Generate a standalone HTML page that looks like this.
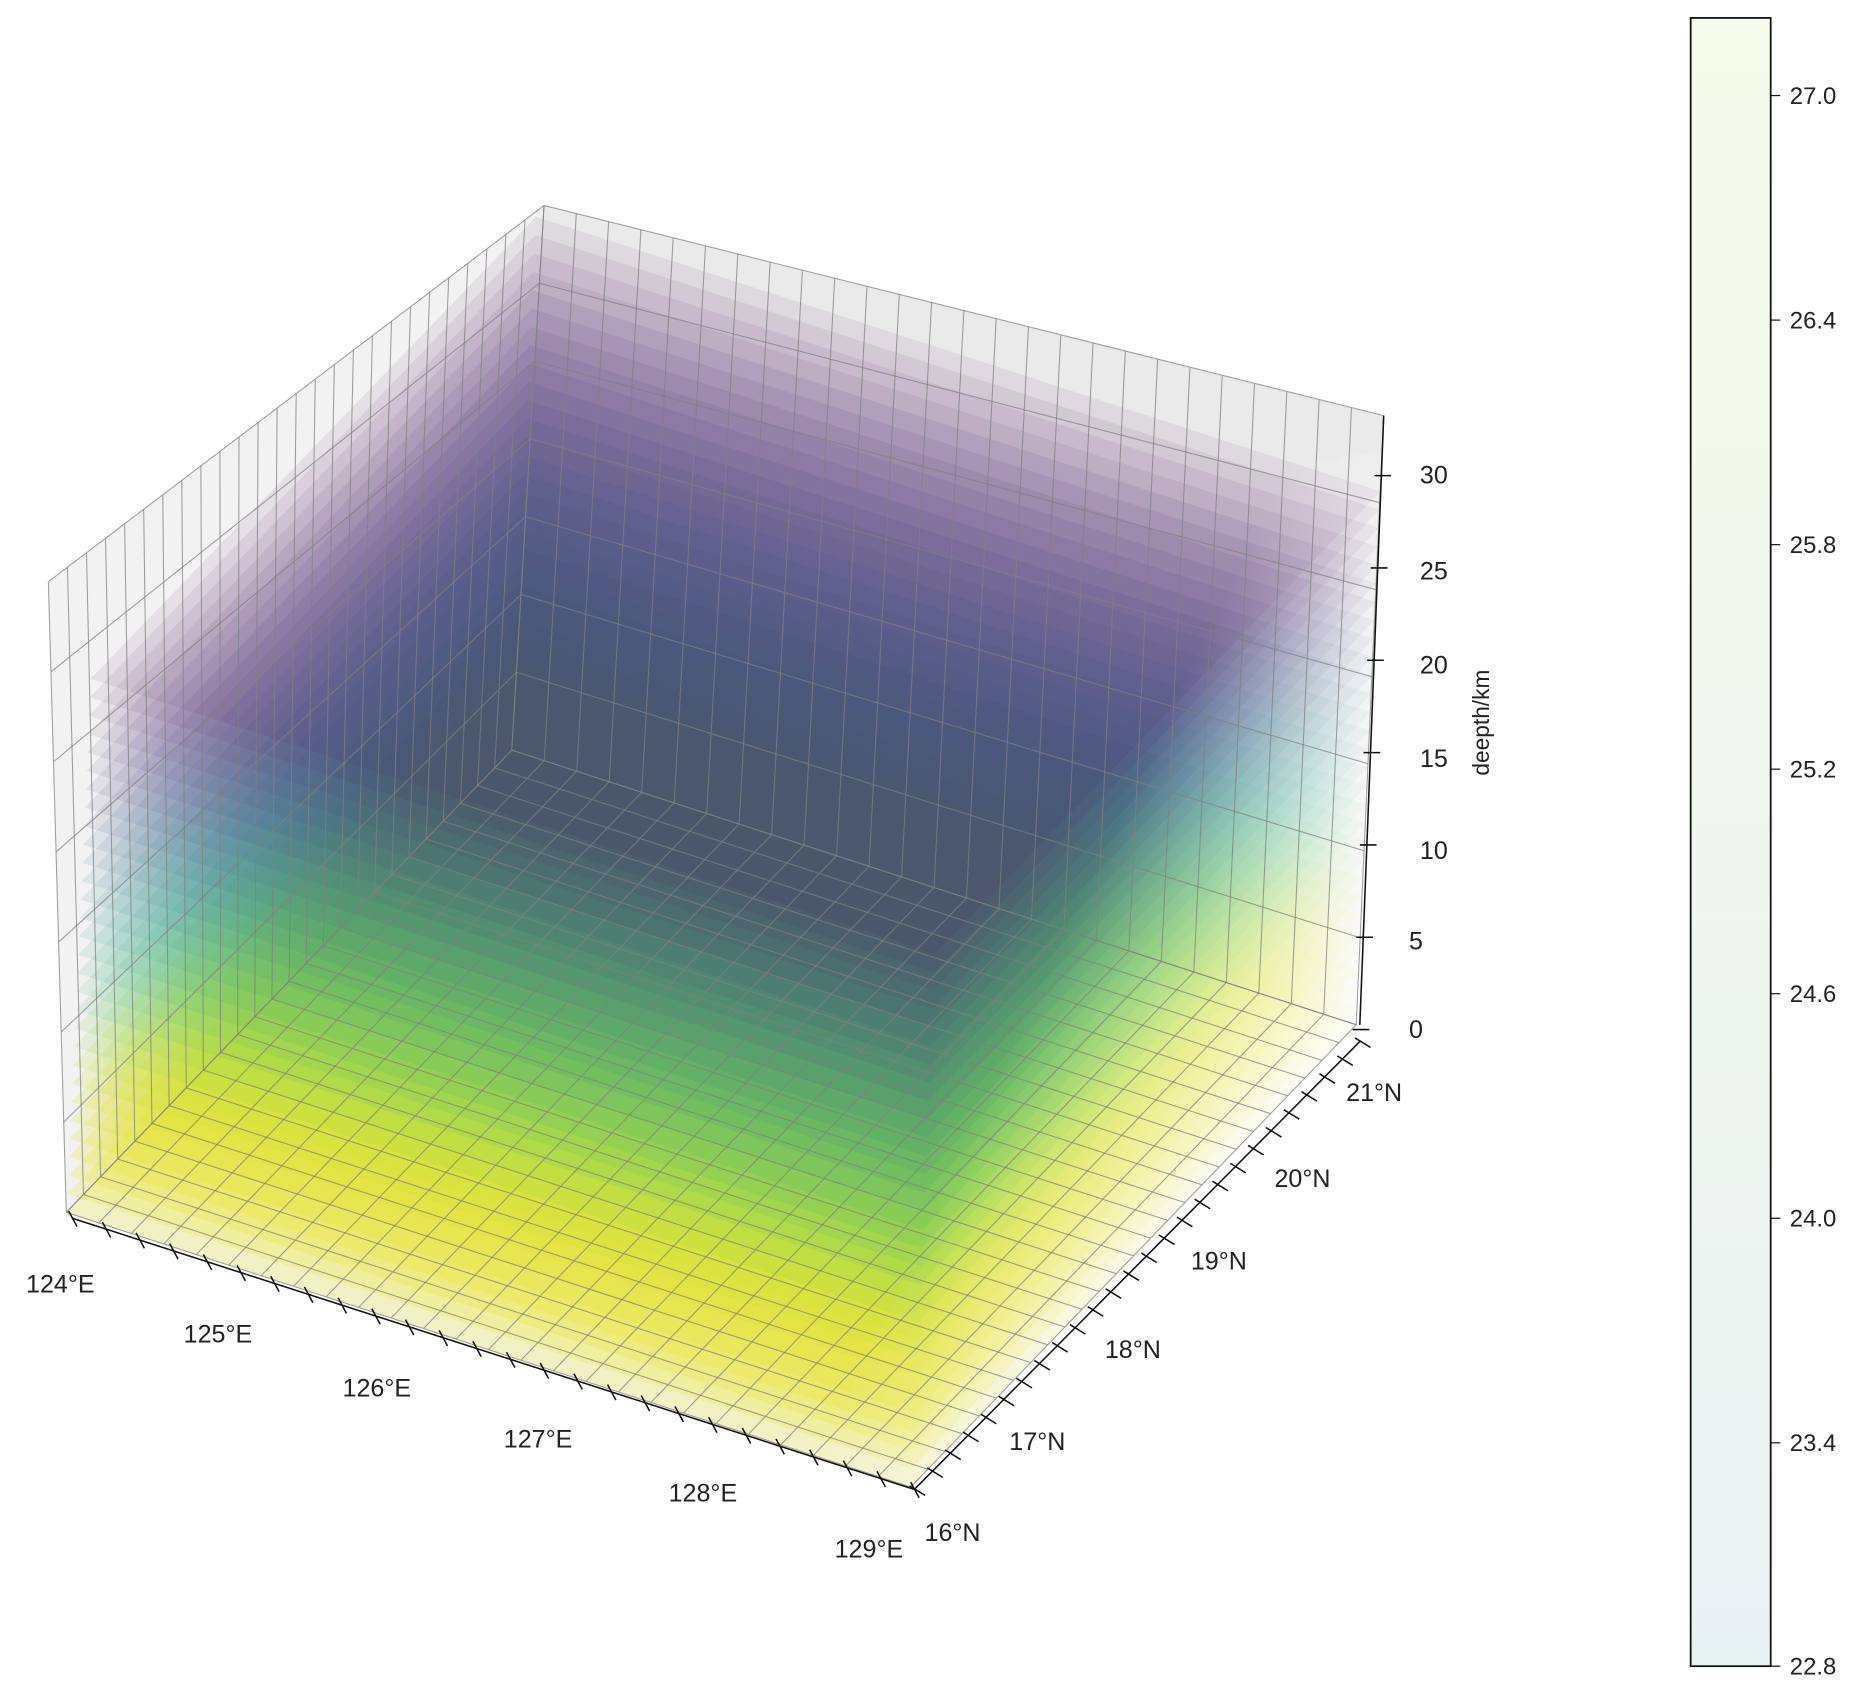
<!DOCTYPE html>
<html><head><meta charset="utf-8">
<style>html,body{margin:0;padding:0;background:#fff;}svg{display:block;}
text{font-family:"Liberation Sans",sans-serif;fill:#222;}</style></head>
<body>
<svg id="s" width="1874" height="1708" viewBox="0 0 1568 1430" xmlns="http://www.w3.org/2000/svg">
<defs>
<linearGradient id="cb" x1="0" y1="0" x2="0" y2="1"><stop offset="0" stop-color="#f7fbeb"/><stop offset="1" stop-color="#e9f2f3"/></linearGradient>
<linearGradient id="fade" gradientUnits="userSpaceOnUse" x1="480" y1="900" x2="1000" y2="1150"><stop offset="0" stop-color="#fff" stop-opacity="0"/><stop offset="0.55" stop-color="#fff" stop-opacity="0"/><stop offset="1" stop-color="#fff" stop-opacity="0.85"/></linearGradient>
</defs>
<g id="walls"></g><g id="layers"></g><g id="grid"></g><g id="axes"></g>
<rect x="1415" y="15" width="67" height="1380" fill="url(#cb)" stroke="#111" stroke-width="1.5"/>
<g font-size="20">
<line x1="1482" y1="80" x2="1490" y2="80" stroke="#111"/><text x="1498" y="87">27.0</text>
<line x1="1482" y1="268" x2="1490" y2="268" stroke="#111"/><text x="1498" y="275">26.4</text>
<line x1="1482" y1="456" x2="1490" y2="456" stroke="#111"/><text x="1498" y="463">25.8</text>
<line x1="1482" y1="644" x2="1490" y2="644" stroke="#111"/><text x="1498" y="651">25.2</text>
<line x1="1482" y1="832" x2="1490" y2="832" stroke="#111"/><text x="1498" y="839">24.6</text>
<line x1="1482" y1="1020" x2="1490" y2="1020" stroke="#111"/><text x="1498" y="1027">24.0</text>
<line x1="1482" y1="1208" x2="1490" y2="1208" stroke="#111"/><text x="1498" y="1215">23.4</text>
<line x1="1482" y1="1395" x2="1490" y2="1395" stroke="#111"/><text x="1498" y="1402">22.8</text>
</g>
<g font-size="21" text-anchor="middle">
<text x="50" y="1082">124°E</text><text x="182" y="1124">125°E</text><text x="315" y="1169">126°E</text>
<text x="450" y="1212">127°E</text><text x="588" y="1257">128°E</text><text x="727" y="1304">129°E</text>
<text x="797" y="1290">16°N</text><text x="868" y="1214">17°N</text><text x="948" y="1137">18°N</text>
<text x="1020" y="1063">19°N</text><text x="1090" y="994">20°N</text><text x="1150" y="922">21°N</text>
<text x="1200" y="405">30</text><text x="1200" y="485">25</text><text x="1200" y="564">20</text>
<text x="1200" y="642">15</text><text x="1200" y="719">10</text><text x="1185" y="795">5</text><text x="1185" y="869">0</text>
<text transform="translate(1246,605) rotate(-90)" font-size="19">deepth/km</text>
</g>
</svg>
<script>
const NS="http://www.w3.org/2000/svg";
function el(p,t,a){const e=document.createElementNS(NS,t);for(const k in a)e.setAttribute(k,a[k]);document.getElementById(p).appendChild(e);return e;}
const A=[55,1015],B=[762,1245],C=[1135,858],D=[428,628];
const At=[40,487],Dt=[455,172],Ct=[1158,348];
const L=(p,q,t)=>[p[0]+(q[0]-p[0])*t,p[1]+(q[1]-p[1])*t];
const pts=a=>a.map(p=>p.join(',')).join(' ');
el('walls','polygon',{points:pts([A,D,Dt,At]),fill:'#f2f2f2'});
el('walls','polygon',{points:pts([D,C,Ct,Dt]),fill:'#eaeaea'});
el('walls','polygon',{points:pts([A,B,C,D]),fill:'#f5f5f5'});
const cols=[[0,'#e8e41a',.22],[4,'#e0e225',.2],[7,'#c2df2e',.18],[9,'#7fd34e',.14],[11,'#3fbc73',.12],[13,'#22a884',.11],[15,'#21918c',.1],[17,'#2a788e',.1],[19,'#33638d',.1],[21,'#3e4a89',.1],[23,'#472d7b',.09],[26,'#48186a',.08],[28,'#440154',.07]];
for(let z=0;z<=29;z+=1){
 let c=cols[0];for(const k of cols)if(k[0]<=z)c=k;
 const dy=-15.4*z,dx=0.7*z;
 const s=p=>[p[0]+dx,p[1]+dy];
 el('layers','polygon',{points:pts([s(A),s(B),s(C),s(D)]),fill:c[1],'fill-opacity':c[2]});
}
el('layers','polygon',{points:pts([A,B,C,[C[0]+20,C[1]-480],[A[0]-10,A[1]-480]]),fill:'url(#fade)'});
const g={stroke:'#808080','stroke-width':0.9,'stroke-opacity':0.75};
const N=26;
for(let i=0;i<=N;i++){const t=i/N;
 let p=L(A,D,t),q=L(At,Dt,t);el('grid','line',Object.assign({x1:p[0],y1:p[1],x2:q[0],y2:q[1]},g));
 p=L(D,C,t);q=L(Dt,Ct,t);el('grid','line',Object.assign({x1:p[0],y1:p[1],x2:q[0],y2:q[1]},g));
 p=L(A,B,t);q=L(D,C,t);el('grid','line',Object.assign({x1:p[0],y1:p[1],x2:q[0],y2:q[1]},g));
 p=L(A,D,t);q=L(B,C,t);el('grid','line',Object.assign({x1:p[0],y1:p[1],x2:q[0],y2:q[1]},g));
}
for(let i=0;i<=7;i++){const t=i/7.;
 const h=L(A,At,t),h2=L(D,Dt,t),h3=L(C,Ct,t);
 el('grid','polyline',Object.assign({points:pts([h,h2,h3]),fill:'none'},g));
}
const ax={stroke:'#111','stroke-width':1.3};
const a0=[60,1020],a1=[765,1247],b1=[1138,872],z0=[1138,858],z1=[1158,348];
el('axes','line',Object.assign({x1:a0[0],y1:a0[1],x2:a1[0],y2:a1[1]},ax));
el('axes','line',Object.assign({x1:a1[0],y1:a1[1],x2:b1[0],y2:b1[1]},ax));
el('axes','line',Object.assign({x1:z0[0],y1:z0[1],x2:z1[0],y2:z1[1]},ax));
for(let i=0;i<=25;i++){const p=L(a0,a1,i/25);el('axes','line',Object.assign({x1:p[0]-3,y1:p[1]-6,x2:p[0]+4,y2:p[1]+7},ax));}
for(let i=0;i<=25;i++){const p=L(a1,b1,i/25);el('axes','line',Object.assign({x1:p[0]-4,y1:p[1]-3,x2:p[0]+9,y2:p[1]+5},ax));}
for(let i=0;i<=6;i++){const y=862-i*77.3;const x=1138+(862-y)/510*20;el('axes','line',Object.assign({x1:x-6,y1:y,x2:x+8,y2:y},ax));}
</script>
</body></html>
